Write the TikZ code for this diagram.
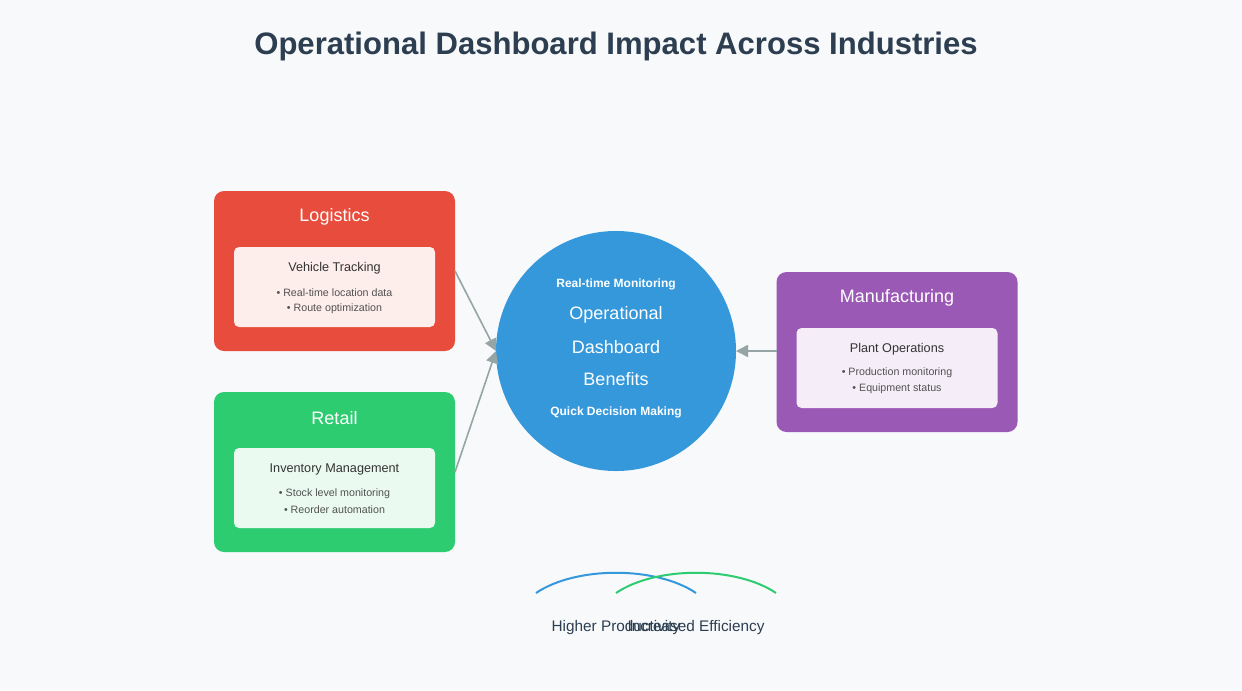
\documentclass[tikz,border=0pt]{standalone}
\usepackage{fontspec}
\setmainfont{Liberation Sans}
\usetikzlibrary{arrows.meta}
\definecolor{bg}{HTML}{F7F9FB}
\definecolor{dark}{HTML}{2C3E50}
\definecolor{red}{HTML}{E74C3C}
\definecolor{grn}{HTML}{2ECC71}
\definecolor{pur}{HTML}{9B59B6}
\definecolor{blu}{HTML}{3498DB}
\definecolor{gry}{HTML}{95A5A6}
\definecolor{txt}{HTML}{333333}
\begin{document}
\begin{tikzpicture}[x=0.75pt,y=-0.75pt,
  card/.style={rounded corners=7.5pt,minimum width=180.75pt,minimum height=120pt,inner sep=0},
  inner/.style={rounded corners=3.75pt,minimum width=150.75pt,minimum height=60pt,inner sep=0},
  ttl/.style={text=white,font=\fontsize{13.5}{16}\selectfont},
  sub/.style={text=txt,font=\fontsize{9.5}{11}\selectfont},
  bul/.style={text=txt!85,font=\fontsize{8}{10}\selectfont},
  conn/.style={draw=gry,line width=1.2pt,-{Triangle[length=9pt,width=9pt]}}]
\fill[bg] (0,0) rectangle (1242,690);
\useasboundingbox (0,0) rectangle (1242,690);
\node[text=dark,font=\fontsize{23.3}{27}\selectfont\bfseries] (title) at (616,46) {Operational Dashboard Impact Across Industries};
% Logistics
\node[card,fill=red] (log) at (334.5,271) {};
\node[ttl] (logt) at (334.5,217) {Logistics};
\node[inner,fill=red!10] (logi) at (334.5,287) {};
\node[sub] (logs) at (334.5,268) {Vehicle Tracking};
\node[bul] (logb1) at (334.5,293) {• Real-time location data};
\node[bul] (logb2) at (334.5,309) {• Route optimization};
% Retail
\node[card,fill=grn] (ret) at (334.5,472) {};
\node[ttl] (rett) at (334.5,418) {Retail};
\node[inner,fill=grn!10] (reti) at (334.5,488) {};
\node[sub] (rets) at (334.5,469) {Inventory Management};
\node[bul] (retb1) at (334.5,494) {• Stock level monitoring};
\node[bul] (retb2) at (334.5,510) {• Reorder automation};
% Manufacturing
\node[card,fill=pur] (man) at (897,352) {};
\node[ttl] (mant) at (897,298) {Manufacturing};
\node[inner,fill=pur!10] (mani) at (897,368) {};
\node[sub] (mans) at (897,349) {Plant Operations};
\node[bul] (manb1) at (897,373) {• Production monitoring};
\node[bul] (manb2) at (897,389) {• Equipment status};
% Circle
\node[circle,fill=blu,minimum size=180pt,inner sep=0] (hub) at (616,351) {};
\node[text=white,font=\fontsize{9}{11}\selectfont\bfseries] (h1) at (616,284) {Real-time Monitoring};
\node[text=white,font=\fontsize{13.5}{16}\selectfont] (h2) at (616,315) {Operational};
\node[text=white,font=\fontsize{13.5}{16}\selectfont] (h3) at (616,347) {Dashboard};
\node[text=white,font=\fontsize{13.5}{16}\selectfont] (h4) at (616,379) {Benefits};
\node[text=white,font=\fontsize{9}{11}\selectfont\bfseries] (h5) at (616,412) {Quick Decision Making};
% connectors
\coordinate (la) at (455,271);
\coordinate (ra) at (455,472);
\coordinate (ma) at (777,351);
\coordinate (tip) at (496,351);
\coordinate (tip2) at (736,351);
\draw[conn] (la) -- (tip);
\draw[conn] (ra) -- (tip);
\draw[conn] (ma) -- (tip2);
% arcs
\coordinate (a1) at (536,593); \coordinate (a2) at (696,593);
\coordinate (b1) at (616,593); \coordinate (b2) at (776,593);
\draw[blu,line width=1.5pt] (a1) .. controls (576,566) and (656,566) .. (a2);
\draw[grn,line width=1.5pt] (b1) .. controls (656,566) and (736,566) .. (b2);
\node[text=dark,font=\fontsize{11.5}{14}\selectfont] (l1) at (616,628) {Higher Productivity};
\node[text=dark,font=\fontsize{11.5}{14}\selectfont] (l2) at (696,628) {Increased Efficiency};
\end{tikzpicture}
\end{document}
